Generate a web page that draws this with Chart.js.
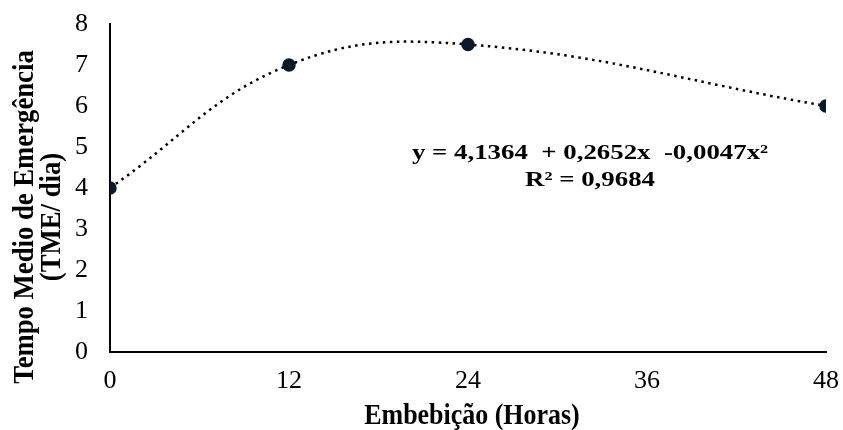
<!DOCTYPE html>
<html>
<head>
<meta charset="utf-8">
<script src="https://cdn.jsdelivr.net/npm/chart.js@4"></script>
<style>
  body { margin: 0; background: #fff; }
  #wrap { width: 843px; height: 430px; }
</style>
</head>
<body>
<div id="wrap"><canvas id="grafico"></canvas></div>
<script>
const horas = [0, 12, 24, 48];
const tme = [4, 7, 7.5, 6];
const xTicks = [0, 12, 24, 36, 48];
const yTicks = [0, 1, 2, 3, 4, 5, 6, 7, 8];
const equacao = ["y = 4,1364  + 0,2652x  -0,0047x\u00b2", "R\u00b2 = 0,9684"];
const tituloY = ["Tempo Medio de Emergência", "(TME/ dia)"];
const tituloX = "Embebição (Horas)";

const pontos = horas.map((h, i) => ({ x: h, y: tme[i] }));

// texto esticado/comprimido na direcao da leitura
function texto(ctx, str, x, y, escala) {
  ctx.save();
  ctx.translate(x, y);
  ctx.scale(escala, 1);
  ctx.fillText(str, 0, 0);
  ctx.restore();
}

const textos = {
  id: "textos",
  afterDraw(chart) {
    const ctx = chart.ctx;
    const area = chart.chartArea;
    ctx.save();
    ctx.fillStyle = "#000";
    ctx.textAlign = "center";
    ctx.textBaseline = "middle";
    ctx.font = "bold 22px 'Liberation Serif'";
    texto(ctx, equacao[0], 590, 153, 1.22);
    texto(ctx, equacao[1], 590, 180, 1.22);

    ctx.textBaseline = "alphabetic";
    ctx.font = "bold 30px 'Liberation Serif'";
    texto(ctx, tituloX, (area.left + area.right) / 2 + 4, 424, 0.865);

    ctx.translate(0, 217);
    ctx.rotate(-Math.PI / 2);
    texto(ctx, tituloY[0], 0, 33, 0.89);
    texto(ctx, tituloY[1], 0, 60, 0.89);
    ctx.restore();
  },
};

new Chart(document.getElementById("grafico"), {
  type: "scatter",
  data: {
    datasets: [
      {
        data: pontos,
        showLine: true,
        borderColor: "#000",
        borderWidth: 2.5,
        borderDash: [2.5, 4.5],
        tension: 0.4,
        pointRadius: 5.5,
        pointBackgroundColor: "#0b1a2a",
        pointBorderColor: "#0b1a2a",
      },
    ],
  },
  options: {
    responsive: true,
    maintainAspectRatio: false,
    animation: false,
    layout: { padding: { left: 53, top: 0, right: 0, bottom: 19 } },
    plugins: { legend: { display: false }, tooltip: { enabled: false } },
    scales: {
      x: {
        type: "linear",
        min: 0,
        max: 48,
        afterBuildTicks: (s) => { s.ticks = xTicks.map((v) => ({ value: v })); },
        afterFit: (s) => { s.paddingRight = 17; },
        grid: { display: false, drawTicks: false },
        border: { display: true, color: "#000", width: 2 },
        ticks: { color: "#000", padding: 14, font: { family: "Liberation Serif", size: 26 } },
      },
      y: {
        min: 0,
        max: 8,
        afterBuildTicks: (s) => { s.ticks = yTicks.map((v) => ({ value: v })); },
        afterFit: (s) => { s.paddingTop = 24; },
        grid: { display: false, drawTicks: false },
        border: { display: true, color: "#000", width: 2 },
        ticks: { color: "#000", padding: 22, font: { family: "Liberation Serif", size: 26 } },
      },
    },
  },
  plugins: [textos],
});
</script>
</body>
</html>
